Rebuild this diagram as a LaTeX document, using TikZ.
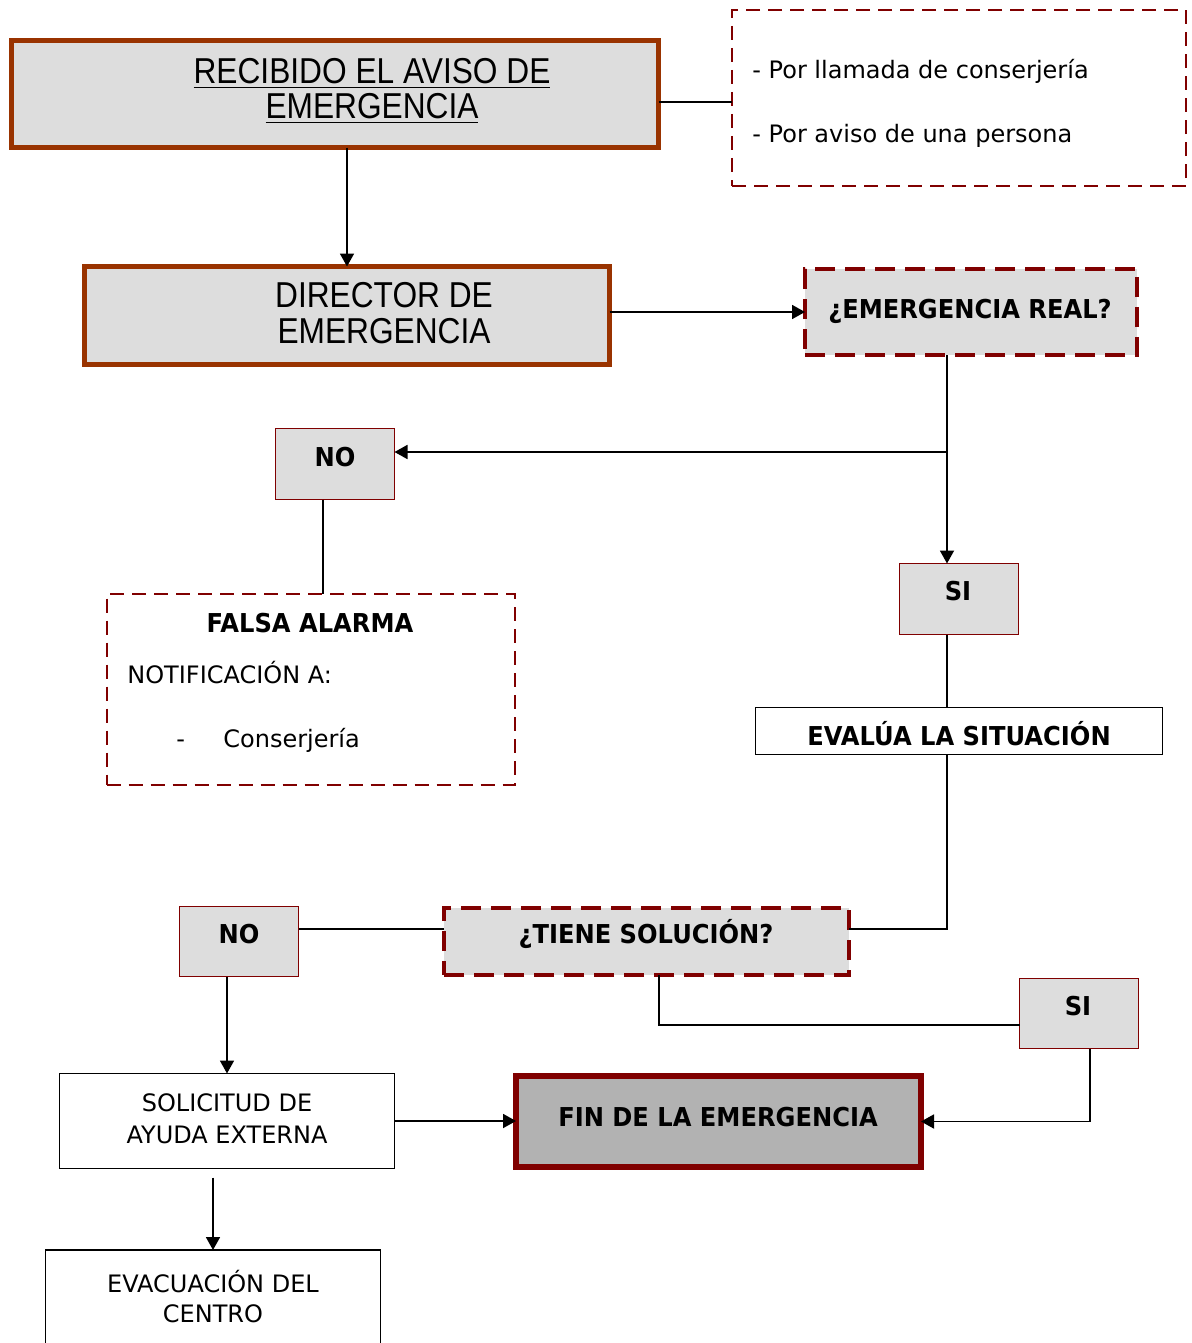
\documentclass[tikz,border=0pt]{standalone}
\usepackage{fontspec}
\usetikzlibrary{arrows.meta,calc}
\newfontfamily\tahr{DejaVu Sans}
\newfontfamily\tahb[FakeStretch=0.93]{DejaVu Sans Bold}
\newfontfamily\arialn[FakeStretch=0.88]{Liberation Sans}
\definecolor{brn}{RGB}{153,51,0}
\definecolor{dred}{RGB}{128,0,0}
\definecolor{lgray}{RGB}{221,221,221}
\definecolor{mgray}{RGB}{178,178,178}
\begin{document}
\begin{tikzpicture}[x=0.5pt,y=-0.5pt,
  box/.style={rectangle,inner sep=0pt,outer sep=0pt},
  sz/.style 2 args={minimum width=#1*0.5pt,minimum height=#2*0.5pt},
  brownbox/.style={box,draw=brn,line width=2.5pt,fill=lgray},
  dashthin/.style={box,draw=dred,line width=1pt,dash pattern=on 7pt off 4pt,fill=white},
  dashthick/.style={box,draw=dred,line width=2pt,dash pattern=on 10pt off 5pt,fill=lgray},
  smallbox/.style={box,draw=dred,line width=0.8pt,fill=lgray},
  plainbox/.style={box,draw=black,line width=0.8pt,fill=white},
  finbox/.style={box,draw=dred,line width=3pt,fill=mgray},
  tr/.style={inner sep=0pt,anchor=base,font=\tahr\fontsize{12}{14}\selectfont},
  tb/.style={inner sep=0pt,anchor=base,font=\tahb\fontsize{13}{15}\selectfont},
  ta/.style={inner sep=0pt,anchor=base,font=\arialn\fontsize{18}{20}\selectfont},
  conn/.style={draw=black,line width=0.9pt},
  arr/.style={conn,-{Triangle[length=6.5pt,width=7pt]}}]
\useasboundingbox (0,0) rectangle (1192,1343);
\clip (0,0) rectangle (1192,1343);

% boxes
\node[brownbox,sz={647}{107}] (rec) at (335,94) {};
\node[dashthin,sz={454}{176}] (avisos) at (959,98) {};
\node[brownbox,sz={525}{98}] (dir) at (347,315.5) {};
\node[dashthick,sz={332}{86}] (emreal) at (971,312) {};
\node[smallbox,sz={119}{71}] (no1) at (335,464) {};
\node[dashthin,sz={408}{191}] (falsa) at (310.5,689) {};
\node[smallbox,sz={119}{71}] (si1) at (959,599) {};
\node[plainbox,sz={407}{47}] (evalua) at (959,731) {};
\node[dashthick,sz={405}{67}] (tiene) at (646.5,941.5) {};
\node[smallbox,sz={119}{70}] (no2) at (239,941.5) {};
\node[plainbox,sz={335}{95}] (solic) at (227,1121) {};
\node[finbox,sz={405}{91}] (fin) at (718.5,1121.5) {};
\node[smallbox,sz={119}{70}] (si2) at (1079,1013.5) {};
\node[plainbox,sz={335}{120}] (evac) at (213,1310) {};

% texts
\node[ta] (trec1) at (372,84) {\underline{RECIBIDO EL AVISO DE}};
\node[ta] (trec2) at (372,119) {\underline{EMERGENCIA}};
\node[tr,anchor=base west] (tav1) at (752,79) {- Por llamada de conserjería};
\node[tr,anchor=base west] (tav2) at (752,142) {- Por aviso de una persona};
\node[ta] (tdir1) at (384,307) {DIRECTOR DE};
\node[ta] (tdir2) at (384,343) {EMERGENCIA};
\node[tb] (temr) at (970,318) {¿EMERGENCIA REAL?};
\node[tb] (tno1) at (335,466) {NO};
\node[tb] (tfal) at (310,632) {FALSA ALARMA};
\node[tr,anchor=base west] (tnot) at (127,683) {NOTIFICACIÓN A:};
\node[tr,anchor=base west] (tdash) at (176,747) {-};
\node[tr,anchor=base west] (tcons) at (223,747) {Conserjería};
\node[tb] (tsi1) at (958,600) {SI};
\node[tb] (tev) at (959,745) {EVALÚA LA SITUACIÓN};
\node[tb] (ttie) at (646,943) {¿TIENE SOLUCIÓN?};
\node[tb] (tno2) at (239,943) {NO};
\node[tb] (tsi2) at (1078,1015) {SI};
\node[tr] (tsol1) at (227,1111) {SOLICITUD DE};
\node[tr] (tsol2) at (227,1143) {AYUDA EXTERNA};
\node[tb] (tfin) at (718,1126) {FIN DE LA EMERGENCIA};
\node[tr] (tevac1) at (213,1292) {EVACUACIÓN DEL};
\node[tr] (tevac2) at (213,1322) {CENTRO};

% connector anchor points
\coordinate (avw) at ($(avisos.west)+(0,4)$);
\coordinate (er) at ($(emreal.south)+(-24,0)$);
\coordinate (no1e) at ($(no1.east)+(0,-12)$);
\coordinate (no1s) at ($(no1.south)+(-12,0)$);
\coordinate (tie) at ($(tiene.east)+(0,-12.5)$);
\coordinate (tiw) at ($(tiene.west)+(0,-12.5)$);
\coordinate (tis) at ($(tiene.south)+(12.5,0)$);
\coordinate (no2s) at ($(no2.south)+(-12,0)$);
\coordinate (si2w) at ($(si2.west)+(0,11.5)$);
\coordinate (si2s) at ($(si2.south)+(11,0)$);
\coordinate (sols) at ($(solic.south)+(-14,9)$);

% connectors
\draw[arr] (dir.north |- rec.south) -- (dir.north);
\draw[conn] (rec.east |- avw) -- (avw);
\draw[arr] (dir.east |- emreal.west) -- (emreal.west);
\draw[arr] (er) -- (er |- si1.north);
\draw[arr] (er |- no1e) -- (no1e);
\draw[conn] (no1s) -- (no1s |- falsa.north);
\draw[conn] (er |- si1.south) -- (er |- evalua.north);
\draw[conn] (er |- evalua.south) -- (er |- tie) -- (tie);
\draw[conn] (tiw) -- (tiw -| no2.east);
\draw[arr] (no2s) -- (no2s |- solic.north);
\draw[arr] (solic.east) -- (solic.east -| fin.west);
\draw[conn] (tis) -- (tis |- si2w) -- (si2w);
\draw[arr] (si2s) -- (si2s |- fin.east) -- (fin.east);
\draw[arr] (sols) -- (sols |- evac.north);
\end{tikzpicture}
\end{document}
